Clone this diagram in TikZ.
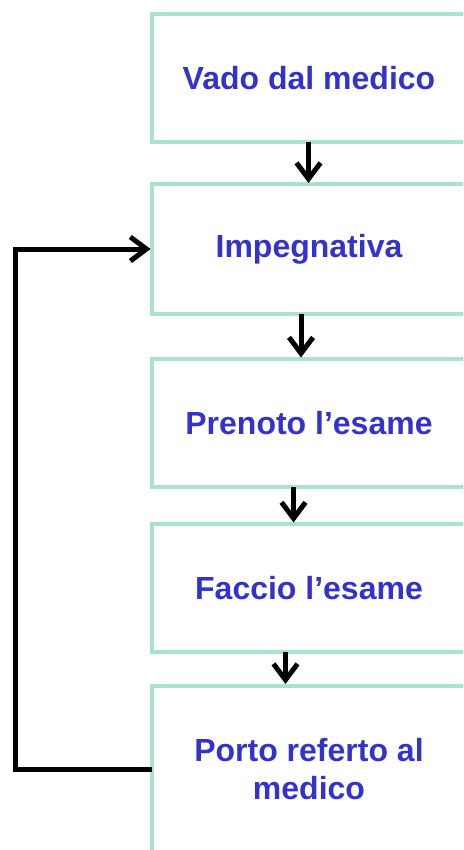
\documentclass[tikz,border=0pt]{standalone}
\usepackage{fontspec}
\setmainfont{Liberation Sans}
\usetikzlibrary{arrows.meta,calc}
\definecolor{boxgreen}{RGB}{170,227,203}
\definecolor{txtblue}{RGB}{51,51,204}
\tikzset{
  stepbox/.style={draw=boxgreen, line width=4pt, rectangle, inner sep=0pt, outer sep=0pt,
    font=\bfseries\fontsize{32}{37.5}\selectfont, text=txtblue, align=center,
    minimum width=314pt, anchor=north west},
  flowarr/.style={draw=black, line width=5pt,
    -{Straight Barb[length=16pt, width=24pt, line width=5pt]}}
}
\begin{document}
\begin{tikzpicture}[x=1pt, y=-1pt]
\useasboundingbox (0,0) rectangle (463,850);
\clip (0,0) rectangle (463,850);
\node[stepbox, minimum height=128pt] (b1) at (152,14) {Vado dal medico};
\node[stepbox, minimum height=129pt] (b2) at (152,184.5) {Impegnativa};
\node[stepbox, minimum height=128pt] (b3) at (152,359) {Prenoto l’esame};
\node[stepbox, minimum height=128pt] (b4) at (152,524) {Faccio l’esame};
\node[stepbox, minimum height=167pt] (b5) at (152,685.5) {Porto referto al\\medico};
\draw[flowarr] ($(b1.south west)+(156.5,0)$) -- ($(b2.north west)+(156.5,-1.5)$);
\draw[flowarr] ($(b2.south west)+(149,0)$) -- ($(b3.north west)+(149,-1.5)$);
\draw[flowarr] ($(b3.south west)+(141.5,0)$) -- ($(b4.north west)+(141.5,-1.5)$);
\draw[flowarr] ($(b4.south west)+(133.5,0)$) -- ($(b5.north west)+(133.5,-1.5)$);
\coordinate (c1) at (15.5,769);
\coordinate (c2) at (15.5,249);
\draw[flowarr] (b5.west |- c1) -- (c1) -- (c2) -- ([xshift=-1.5pt]b2.west |- c2);
\end{tikzpicture}
\end{document}
